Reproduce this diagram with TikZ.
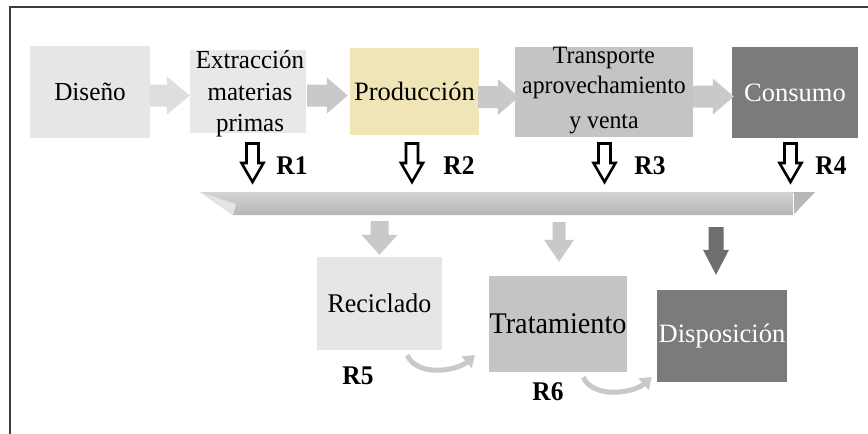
\documentclass[tikz,border=0pt]{standalone}
\usepackage{fontspec}
\setmainfont{Liberation Serif}
\usetikzlibrary{calc,arrows.meta}
\definecolor{cLight}{HTML}{E6E6E6}
\definecolor{cLightB}{HTML}{E8E8E8}
\definecolor{cYel}{HTML}{F0E5B6}
\definecolor{cMid}{HTML}{C4C4C4}
\definecolor{cDark}{HTML}{7B7B7B}
\definecolor{cArrA}{HTML}{DEDEDE}
\definecolor{cArr}{HTML}{C9C9C9}
\definecolor{cArrD}{HTML}{6E6E6E}
\definecolor{cBarT}{HTML}{D4D4D4}
\definecolor{cBarB}{HTML}{B6B6B6}
\definecolor{cBarL}{HTML}{E4E4E4}
\definecolor{cBarR}{HTML}{B8B8B8}
\definecolor{cFrame}{HTML}{3C3C3C}
\newcommand{\harrowfill}[6]{\path[#6] let \p1=(#1), \p2=(#2) in (\x1,\y2+#3) -- (\x2-#5,\y2+#3) -- (\x2-#5,\y2+#4) -- (\x2,\y2) -- (\x2-#5,\y2-#4) -- (\x2-#5,\y2-#3) -- (\x1,\y2-#3) -- cycle;}
\newcommand{\varrowfill}[6]{\path[#6] let \p1=(#1), \p2=(#2) in (\x2-#3,\y1) -- (\x2-#3,\y2+#5) -- (\x2-#4,\y2+#5) -- (\x2,\y2) -- (\x2+#4,\y2+#5) -- (\x2+#3,\y2+#5) -- (\x2+#3,\y1) -- cycle;}
\begin{document}
\begin{tikzpicture}[x=1pt,y=-1pt,
  box/.style={rectangle,inner sep=0pt,draw=none,align=center},
  txt/.style={inner sep=0pt,align=center},
  rlab/.style={inner sep=0pt,font=\fontsize{27}{30}\selectfont\bfseries\addfontfeature{FakeStretch=0.94}},
  hollow/.style={draw=black,line width=2.6pt,fill=white,line join=miter},
  curv/.style={draw=cArr,line width=5pt,-{Triangle[length=11pt,width=15pt]}},
]
\useasboundingbox (0,0) rectangle (868,434);
% frame
\coordinate (fr) at (10,7);
\draw[line width=1.3pt,cFrame] (10,434) -- (fr) -- (868,7);

% top boxes
\node[box,fill=cLight,minimum width=120pt,minimum height=92pt,font=\fontsize{26}{30}\selectfont\addfontfeature{FakeStretch=0.97}] (dis) at (90,92) {Diseño};
\node[box,fill=cLightB,minimum width=116pt,minimum height=83pt] (ext) at (248,91.5) {};
\node[txt,font=\fontsize{26}{31.5}\selectfont\addfontfeature{FakeStretch=0.96}] (extT) at (250,94) {Extracción\\materias\\primas};
\node[box,fill=cYel,minimum width=129pt,minimum height=87pt,font=\fontsize{26.5}{30}\selectfont] (pro) at (414.5,91.5) {Producción};
\node[box,fill=cMid,minimum width=178pt,minimum height=90pt] (tra) at (604,92) {};
\node[txt,font=\fontsize{25}{30}\selectfont\addfontfeature{FakeStretch=0.95}] (traT) at (604,91) {Transporte\\aprovechamiento\\[5pt]y venta};
\node[box,fill=cDark,minimum width=126pt,minimum height=91pt,text=white,font=\fontsize{26.5}{30}\selectfont] (con) at (795,92.5) {Consumo};

% horizontal arrows
\harrowfill{$(dis.east)+(0,4)$}{$(ext.west)+(0,4)$}{11pt}{19pt}{23pt}{fill=cArrA}
\harrowfill{$(ext.east)+(1,4)$}{$(pro.west)+(-2,4)$}{11pt}{18pt}{21pt}{fill=cArr}
\harrowfill{$(pro.east)+(-1,5)$}{$(tra.west)+(4,5)$}{11pt}{18pt}{21pt}{fill=cArr}
\harrowfill{$(tra.east)+(0,4)$}{$(con.west)+(2,4)$}{11pt}{18pt}{21pt}{fill=cArr}

% hollow R arrows
\coordinate (r1t) at (252.5,143.5); \coordinate (r1b) at (252.5,182);
\coordinate (r2t) at (412,143.5);   \coordinate (r2b) at (412,182);
\coordinate (r3t) at (604.5,143.5); \coordinate (r3b) at (604.5,182);
\coordinate (r4t) at (790.5,143.5); \coordinate (r4b) at (790.5,182);
\varrowfill{r1t}{r1b}{6pt}{11pt}{19pt}{hollow}
\varrowfill{r2t}{r2b}{6pt}{11pt}{19pt}{hollow}
\varrowfill{r3t}{r3b}{6pt}{11pt}{19pt}{hollow}
\varrowfill{r4t}{r4b}{6pt}{11pt}{19pt}{hollow}
\node[rlab] (R1) at (292,166) {R1};
\node[rlab] (R2) at (459,166) {R2};
\node[rlab] (R3) at (650,166) {R3};
\node[rlab] (R4) at (831,166) {R4};

% bar
\coordinate (b1) at (200,192); \coordinate (b2) at (815,192);
\coordinate (b3) at (793,215); \coordinate (b4) at (233,215);
\shade[top color=cBarT,bottom color=cBarB] (b1) -- (b2) -- (b3) -- (b4) -- cycle;
\fill[cBarL] (b1) -- (236,204) -- (b4) -- cycle;
\fill[cBarR] (793,192) -- (b2) -- (b3) -- cycle;
\draw[white,line width=0.8pt] (793,193) -- (b3);

% bottom boxes
\node[box,fill=cLight,minimum width=125pt,minimum height=93pt,font=\fontsize{27}{30}\selectfont\addfontfeature{FakeStretch=0.96}] (rec) at (379.5,303.5) {Reciclado};
\node[box,fill=cMid,minimum width=138pt,minimum height=96pt,font=\fontsize{30}{34}\selectfont\addfontfeature{FakeStretch=0.94}] (trt) at (558,324) {Tratamiento};
\node[box,fill=cDark,minimum width=130pt,minimum height=92pt,text=white,font=\fontsize{26.5}{30}\selectfont] (dsp) at (722,336) {Disposición};

% down arrows from bar
\coordinate (dA) at (379.5,221);
\coordinate (dB) at (559,222);
\coordinate (dC) at (716,227);
\varrowfill{dA}{$(rec.north)+(0,-2)$}{9pt}{18pt}{20pt}{fill=cArr}
\varrowfill{dB}{$(trt.north)+(1,-14)$}{6.5pt}{15pt}{22pt}{fill=cArr}
\varrowfill{dC}{$(dsp.north)+(-6,-15)$}{7.5pt}{13pt}{25pt}{fill=cArrD}

% curved arrows
\draw[curv] ($(rec.south east)+(-35,5)$) .. controls +(10,22) and +(-18,16) .. ($(trt.west)+(-14,31)$);
\draw[curv] ($(trt.south east)+(-44,5)$) .. controls +(10,22) and +(-18,16) .. ($(dsp.west)+(-5,41)$);

\node[rlab] (R5) at (358,376) {R5};
\node[rlab] (R6) at (548,392) {R6};
\end{tikzpicture}
\end{document}
